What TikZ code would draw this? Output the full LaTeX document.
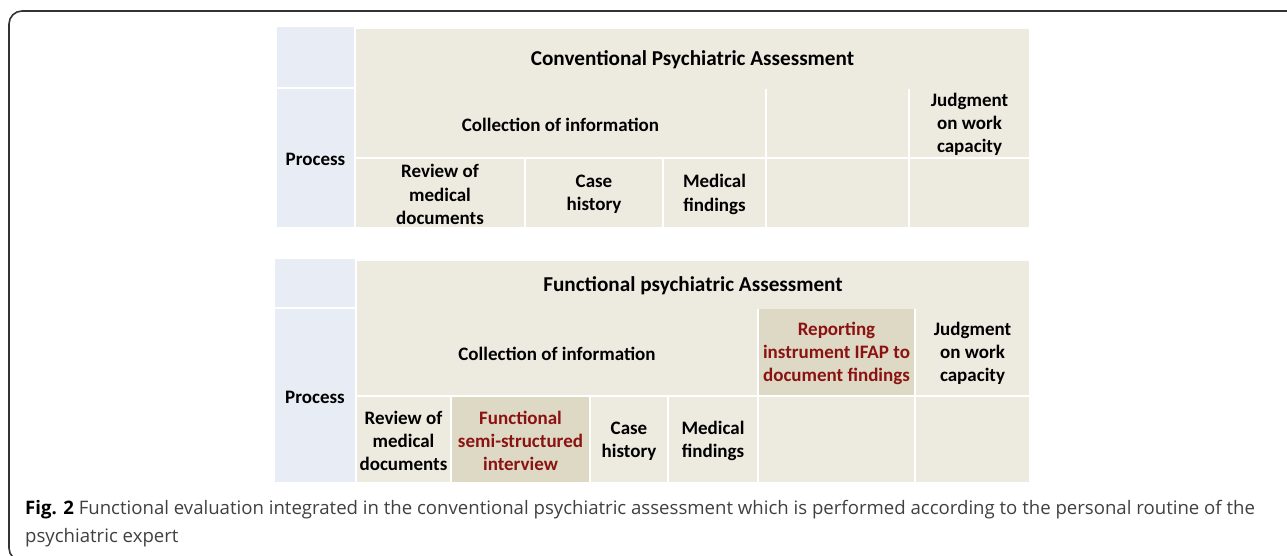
\documentclass[tikz,border=0pt]{standalone}
\usepackage{fontspec}
\setmainfont{Carlito}
\newfontfamily\capfont{Open Sans}
\definecolor{procbg}{HTML}{E7ECF5}
\definecolor{cellbg}{HTML}{EDEAE0}
\definecolor{hlbg}{HTML}{DDD9C4}
\definecolor{hltext}{HTML}{8B1212}
\definecolor{framec}{HTML}{333333}
\definecolor{captext}{HTML}{404040}
\tikzset{
  cellfill/.style={fill=cellbg},
  cell/.style={rectangle, inner sep=0pt, outer sep=0pt, align=center, yshift=-1.5pt,
    font=\fontsize{19}{23.3}\selectfont\bfseries, text=black},
  proc/.style={fill=procbg},
  hl/.style={fill=hlbg, text=hltext},
  titlecell/.style={font=\fontsize{21.2}{25}\selectfont\bfseries, yshift=-1.5pt},
  captionline/.style={anchor=base west, inner sep=0pt, text=captext,
    font=\capfont\fontsize{18.6}{28}\selectfont},
  frameline/.style={draw=framec, line width=1.6pt, rounded corners=13pt}
}
\newcommand\mycell[7]{%
  \pgfmathsetmacro\cx{(#2+#4)/2}\pgfmathsetmacro\cy{(#3+#5)/2}%
  \path[cellfill,#6] (#2,#3) rectangle (#4,#5);
  \node[cell,#6,fill=none] (#1) at (\cx,\cy) {#7};}
\begin{document}
\begin{tikzpicture}[x=1pt,y=-1pt]
\useasboundingbox (0,0) rectangle (1287,555);
% frame
\coordinate (ftr) at (1300,11);
\coordinate (ftl) at (9,11);
\coordinate (fbl) at (9,561);
\coordinate (fbr) at (1300,561);
\draw[frameline] (ftr) -- (ftl) -- (fbl) -- (fbr);
% Table 1
\mycell{a0}{277}{27}{354}{87}{proc}{}
\mycell{aproc}{277}{89}{354}{227}{proc}{Process}
\mycell{atitle}{356}{27}{1029}{87}{titlecell}{Conventional Psychiatric Assessment}
\mycell{acoll}{356}{89}{765}{157}{}{Collection of information}
\mycell{aemp}{767}{89}{908}{157}{}{}
\mycell{ajudg}{910}{89}{1029}{157}{}{Judgment\\on work\\capacity}
\mycell{arev}{356}{159}{524}{227}{}{Review of\\medical\\documents}
\mycell{acase}{526}{159}{662}{227}{}{Case\\history}
\mycell{amed}{664}{159}{765}{227}{}{Medical\\findings}
\mycell{ae1}{767}{159}{908}{227}{}{}
\mycell{ae2}{910}{159}{1029}{227}{}{}
% Table 2
\mycell{b0}{275}{259}{355}{307}{proc}{}
\mycell{bproc}{275}{309}{355}{482}{proc}{Process}
\mycell{btitle}{357}{259}{1029}{307}{titlecell}{Functional psychiatric Assessment}
\mycell{bcoll}{357}{309}{757}{395}{}{Collection of information}
\mycell{brep}{759}{309}{914}{395}{hl}{Reporting\\instrument IFAP to\\document findings}
\mycell{bjudg}{916}{309}{1029}{395}{}{Judgment\\on work\\capacity}
\mycell{brev}{357}{397}{450}{482}{}{Review of\\medical\\documents}
\mycell{bfun}{452}{397}{589}{482}{hl}{Functional\\semi-structured\\interview}
\mycell{bcase}{591}{397}{667}{482}{}{Case\\history}
\mycell{bmed}{669}{397}{757}{482}{}{Medical\\findings}
\mycell{be1}{759}{397}{914}{482}{}{}
\mycell{be2}{916}{397}{1029}{482}{}{}
% caption
\node[captionline] (cap1) at (25,514) {{\bfseries\color{black}Fig. 2} Functional evaluation integrated in the conventional psychiatric assessment which is performed according to the personal routine of the};
\node[captionline] (cap2) at (25,542) {psychiatric expert};
\end{tikzpicture}
\end{document}
